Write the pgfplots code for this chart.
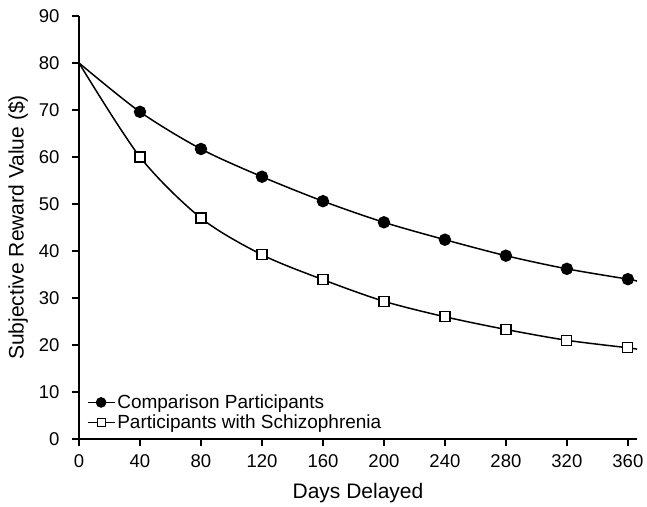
\documentclass[border=0pt]{standalone}
\usepackage{fontspec}
\setmainfont{Liberation Sans}
\usepackage{pgfplots}
\pgfplotsset{compat=1.18}

\begin{document}
\begin{tikzpicture}
\begin{axis}[
    scale only axis,
    width=558pt, height=423pt,
    xmin=0, xmax=366, ymin=0, ymax=90,
    axis lines=left,
    axis line style={line width=1.4pt, -},
    xtick={0,40,...,360}, ytick={0,10,...,90},
    tick align=outside, major tick length=7pt,
    tick style={line width=1.4pt, black},
    /pgf/number format/assume math mode=true,
    ticklabel style={font=\fontsize{18.5}{21}\selectfont},
    yticklabel style={xshift=-9pt},
    xticklabel style={yshift=-5pt},
    xlabel={Days Delayed}, ylabel={Subjective Reward Value (\$)},
    label style={font=\fontsize{21}{24}\selectfont},
    xlabel style={at={(axis description cs:0.5,0)}, anchor=center, yshift=-54pt},
    ylabel style={at={(axis description cs:0,0.5)}, anchor=center, yshift=61pt},
    legend style={draw=none, fill=none, at={(0.012,0.112)}, anchor=north west,
        font=\fontsize{19}{22}\selectfont, row sep=1pt, inner sep=1pt},
    legend cell align=left,
]
% Comparison participants: fitted curve and observed points
\addplot[black, line width=1.5pt, smooth, forget plot] coordinates {
    (0,80) (40,69.6) (80,61.7) (120,55.8) (160,50.6) (200,46.1)
    (240,42.4) (280,39.0) (320,36.2) (360,34.0) (366,33.6)
};
\addplot[black, only marks, mark=*, mark size=5.5pt, line width=1.4pt,
    mark options={fill=black},
    legend image code/.code={
        \draw[line width=1.4pt] (0pt,0pt) -- (27pt,0pt);
        \fill (13.5pt,0pt) circle (4.6pt);
    }] coordinates {
    (40,69.6) (80,61.7) (120,55.8) (160,50.6) (200,46.1)
    (240,42.4) (280,39.0) (320,36.2) (360,34.0)
};
\addlegendentry{Comparison Participants}
% Participants with schizophrenia
\addplot[black, line width=1.5pt, smooth, forget plot] coordinates {
    (0,80) (40,60.0) (80,47.0) (120,39.2) (160,33.9) (200,29.3)
    (240,26.0) (280,23.3) (320,21.0) (360,19.4) (366,19.1)
};
\addplot[black, only marks, mark=square*, mark size=5pt, line width=1.2pt,
    mark options={fill=white},
    legend image code/.code={
        \draw[line width=1.4pt] (0pt,0pt) -- (27pt,0pt);
        \filldraw[fill=white, line width=1pt] (9.5pt,-4pt) rectangle (17.5pt,4pt);
    }] coordinates {
    (40,60.0) (80,47.0) (120,39.2) (160,33.9) (200,29.3)
    (240,26.0) (280,23.3) (320,21.0) (360,19.4)
};
\addlegendentry{Participants with Schizophrenia}
\coordinate (bl) at (rel axis cs:-0.1416,-0.1608);
\coordinate (tr) at (rel axis cs:1.0179,1.0378);
\end{axis}
\pgfresetboundingbox
\path[use as bounding box] (bl) rectangle (tr);
\end{tikzpicture}
\end{document}
